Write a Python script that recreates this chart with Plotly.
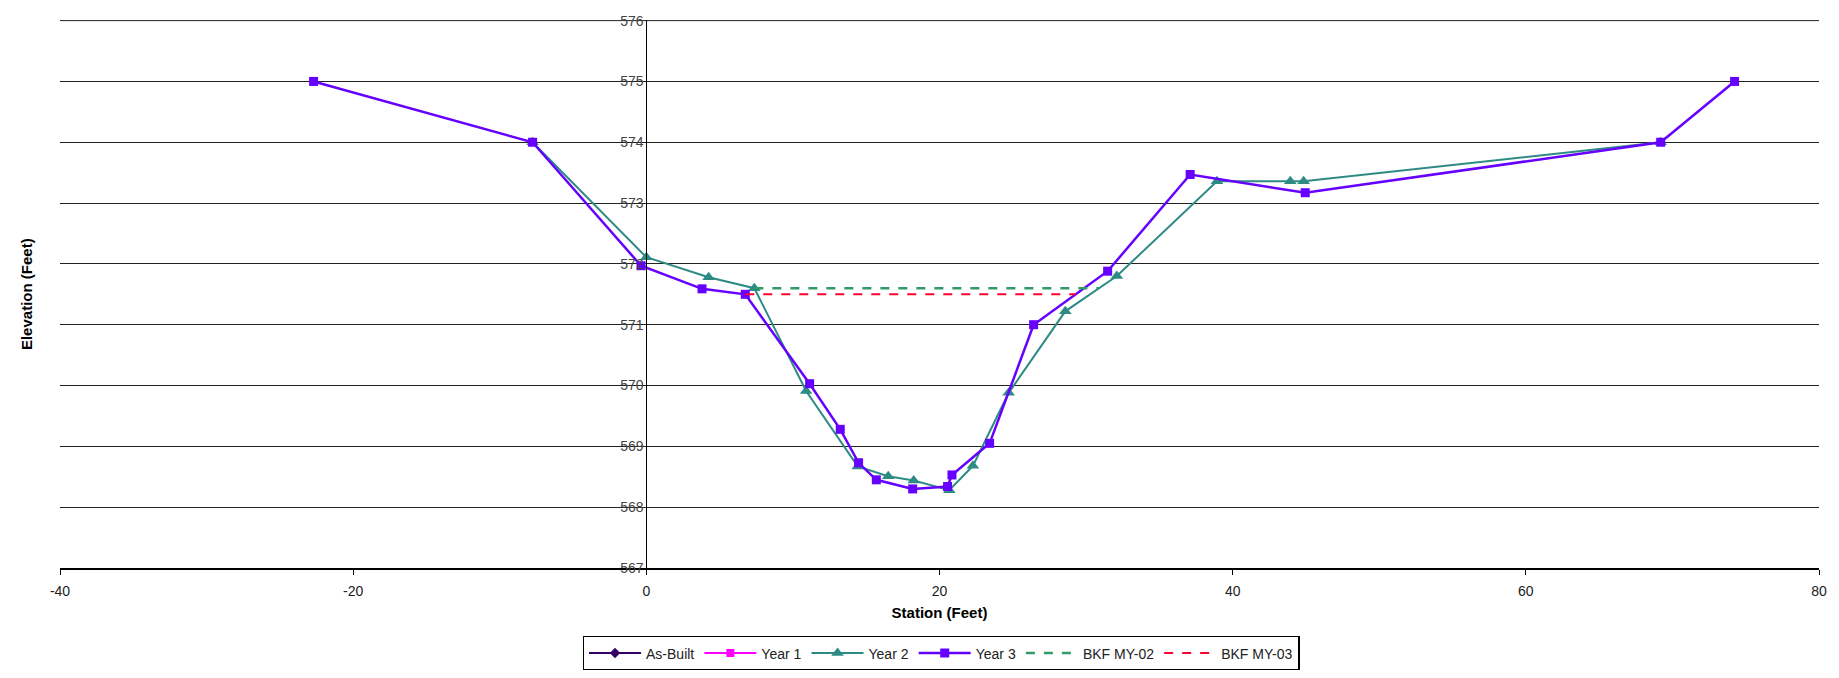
import plotly.graph_objects as go

# Data (As-Built and Year 1 are not visible in the plot; legend entries only)
asbuilt_x = [None]
asbuilt_y = [None]
year1_x = [None]
year1_y = [None]

year2_x = [-7.76, 0.0, 4.25, 7.37, 10.9, 14.42, 16.5, 18.24, 20.67, 22.28, 24.72, 28.58, 32.1, 38.93, 43.93, 44.84, 69.2]
year2_y = [574.0, 572.11, 571.78, 571.6, 569.91, 568.67, 568.51, 568.44, 568.28, 568.68, 569.88, 571.22, 571.8, 573.36, 573.36, 573.36, 574.0]

year3_x = [-22.7, -7.76, -0.36, 3.8, 6.75, 11.14, 13.23, 14.48, 15.69, 18.17, 20.55, 20.85, 23.42, 26.42, 31.47, 37.1, 44.95, 69.2, 74.24]
year3_y = [575.0, 574.0, 571.97, 571.59, 571.5, 570.03, 569.28, 568.73, 568.45, 568.3, 568.34, 568.53, 569.05, 571.0, 571.88, 573.47, 573.17, 574.0, 575.0]

bkf02_x = [7.37, 30.85]
bkf02_y = [571.6, 571.6]
bkf03_x = [6.75, 29.3]
bkf03_y = [571.5, 571.5]

x_ticks = [-40, -20, 0, 20, 40, 60, 80]
x_tick_labels = ["-40", "-20", "0", "20", "40", "60", "80"]
y_ticks = [567, 568, 569, 570, 571, 572, 573, 574, 575, 576]
y_top = y_ticks[-1]

FONT = "Liberation Sans, Arial, sans-serif"

fig = go.Figure()
fig.add_trace(go.Scatter(x=asbuilt_x, y=asbuilt_y, name="As-Built", mode="lines+markers",
                         line=dict(color="#330066", width=2), marker=dict(symbol="diamond", size=8, color="#330066")))
fig.add_trace(go.Scatter(x=year1_x, y=year1_y, name="Year 1", mode="lines+markers",
                         line=dict(color="#FF00FF", width=2), marker=dict(symbol="square", size=8, color="#FF00FF")))
fig.add_trace(go.Scatter(x=year2_x, y=year2_y, name="Year 2", mode="lines+markers",
                         line=dict(color="#2E8B84", width=2), marker=dict(symbol="triangle-up", size=11, color="#2E8B84")))
fig.add_trace(go.Scatter(x=year3_x, y=year3_y, name="Year 3", mode="lines+markers",
                         line=dict(color="#6600FF", width=2.5), marker=dict(symbol="square", size=9, color="#6600FF")))
fig.add_trace(go.Scatter(x=bkf02_x, y=bkf02_y, name="BKF MY-02", mode="lines",
                         line=dict(color="#339966", width=2.5, dash="dash")))
fig.add_trace(go.Scatter(x=bkf03_x, y=bkf03_y, name="BKF MY-03", mode="lines",
                         line=dict(color="#FF0033", width=2, dash="dash")))

fig.update_layout(
    width=1823, height=662,
    paper_bgcolor="white", plot_bgcolor="white",
    margin=dict(l=52, r=12, t=12, b=102, autoexpand=False),
    font=dict(family=FONT, size=14, color="#222"),
    xaxis=dict(range=[-40, 80], tickvals=x_ticks, ticktext=x_tick_labels, showgrid=False, zeroline=False,
               showline=True, linecolor="black", linewidth=1.5, automargin=False,
               ticks="outside", ticklen=5, tickcolor="black", ticklabelstandoff=4,
               tickfont=dict(size=14, color="#222"),
               title=dict(text="<b>Station (Feet)</b>", font=dict(size=15, color="black"), standoff=10)),
    yaxis=dict(range=[567, 576.01], tickvals=y_ticks, showgrid=True, gridcolor="#222", gridwidth=1,
               zeroline=False, showline=True, linecolor="black", linewidth=1, automargin=False,
               anchor="free", position=1/3, ticks="", tickfont=dict(size=14, color="#444")),
    legend=dict(orientation="h", xref="container", yref="container",
                x=0.5118, xanchor="center", y=0.0514, yanchor="top",
                bordercolor="black", borderwidth=1.5, font=dict(size=14, color="#222"),
                itemwidth=52, tracegroupgap=0),
    showlegend=True,
    shapes=[dict(type="line", xref="paper", x0=0, x1=1, yref="y", y0=y_top, y1=y_top,
                 line=dict(color="#222", width=1), layer="below")],
    annotations=[dict(text="<b>Elevation (Feet)</b>", xref="paper", yref="paper",
                      x=-0.0193, y=0.5, textangle=-90, showarrow=False,
                      font=dict(size=15, color="black"), xanchor="center", yanchor="middle")],
)

fig.write_html("out.html")
